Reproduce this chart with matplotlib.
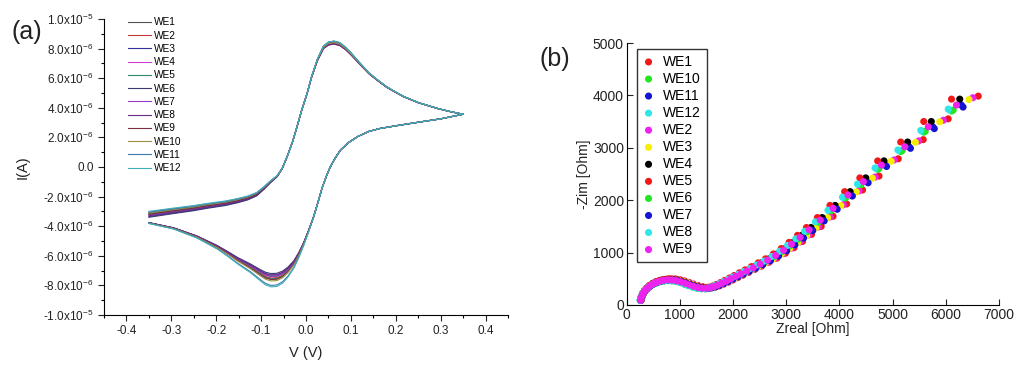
import numpy as np
import matplotlib
matplotlib.use("Agg")
import matplotlib.pyplot as plt
from matplotlib.ticker import MultipleLocator, FixedLocator

plt.rcParams['font.family'] = ['Liberation Sans', 'DejaVu Sans']
plt.rcParams['mathtext.fontset'] = 'custom'
plt.rcParams['mathtext.rm'] = 'Liberation Sans'
plt.rcParams['mathtext.it'] = 'Liberation Sans'

###################################################################################################
# (a) cyclic voltammetry - base branches (V, uA)
v_fwd = [-0.35, -0.30, -0.25, -0.22, -0.18, -0.153, -0.13, -0.11, -0.094, -0.08, -0.064, -0.053,
         -0.042, -0.03, -0.02, -0.01, 0.0025, 0.012, 0.025, 0.039, 0.05, 0.062, 0.075, 0.088,
         0.10, 0.12, 0.14, 0.158, 0.18, 0.20, 0.218, 0.25, 0.292, 0.32, 0.35]
i_fwd = [-3.13, -2.92, -2.72, -2.57, -2.40, -2.23, -2.05, -1.80, -1.40, -1.00, -0.60, -0.10,
         0.70, 1.70, 2.72, 3.80, 4.98, 6.05, 7.23, 8.13, 8.38, 8.45, 8.35, 8.05,
         7.68, 7.00, 6.35, 5.90, 5.40, 5.05, 4.75, 4.35, 3.96, 3.75, 3.56]
v_rev = [0.35, 0.30, 0.25, 0.20, 0.165, 0.14, 0.115, 0.095, 0.077, 0.065, 0.054, 0.045, 0.036,
         0.027, 0.017, 0.006, -0.005, -0.016, -0.027, -0.04, -0.052, -0.065, -0.078, -0.09,
         -0.102, -0.124, -0.153, -0.175, -0.198, -0.243, -0.295, -0.35]
i_rev = [3.56, 3.25, 3.02, 2.78, 2.60, 2.40, 2.05, 1.65, 1.15, 0.60, 0.0, -0.65, -1.40,
         -2.35, -3.36, -4.30, -5.16, -5.90, -6.51, -7.00, -7.32, -7.50, -7.52, -7.42,
         -7.20, -6.76, -6.26, -5.82, -5.39, -4.71, -4.14, -3.78]

cv_labels = ['WE1', 'WE2', 'WE3', 'WE4', 'WE5', 'WE6', 'WE7', 'WE8', 'WE9', 'WE10', 'WE11', 'WE12']
cv_colors = ['#505050', '#c03a3a', '#30309a', '#d040d0', '#2f8a6a', '#3a3a70', '#9a3ac8',
             '#6a2a8a', '#7a3040', '#9a9040', '#3a78b0', '#40b0b8']
# peak currents and start current of each electrode (uA)
anodic_peak = [8.45, 8.30, 8.35, 8.40, 8.50, 8.35, 8.40, 8.30, 8.45, 8.40, 8.50, 8.50]
cathodic_peak = [-7.40, -7.50, -7.30, -7.60, -7.55, -7.20, -7.40, -7.30, -7.60, -7.70, -8.00, -8.10]
start_current = [-3.10, -3.20, -3.35, -3.05, -3.15, -3.40, -3.25, -3.30, -3.20, -3.10, -3.05, -3.00]

a_yticks = [-1e-5, -8e-6, -6e-6, -4e-6, -2e-6, 0, 2e-6, 4e-6, 6e-6, 8e-6, 1e-5]
a_ylabels = ['-1.0x10$^{-5}$', '-8.0x10$^{-6}$', '-6.0x10$^{-6}$', '-4.0x10$^{-6}$', '-2.0x10$^{-6}$',
             '0.0', '2.0x10$^{-6}$', '4.0x10$^{-6}$', '6.0x10$^{-6}$', '8.0x10$^{-6}$', '1.0x10$^{-5}$']

###################################################################################################
# (b) Nyquist plot - base path (Ohm)
zre_base = [260, 275, 300, 335, 380, 430, 490, 555, 625, 700, 780, 860, 940, 1020, 1100, 1180,
            1260, 1340, 1420, 1500, 1570, 1640, 1710, 1790, 1870, 1960, 2050, 2150, 2260, 2380,
            2510, 2650, 2800, 2950, 3100, 3260, 3430, 3640, 3880, 4160, 4450, 4790, 5230, 5670, 6200]
zim_base = [90, 150, 210, 265, 315, 360, 400, 430, 455, 470, 478, 475, 462, 440, 412, 382,
            355, 333, 320, 318, 330, 350, 380, 415, 455, 500, 545, 595, 650, 710,
            780, 855, 945, 1045, 1160, 1290, 1435, 1620, 1845, 2100, 2355, 2670, 3020, 3400, 3815]

eis_labels = ['WE1', 'WE10', 'WE11', 'WE12', 'WE2', 'WE3', 'WE4', 'WE5', 'WE6', 'WE7', 'WE8', 'WE9']
eis_colors = ['#f01818', '#22e622', '#1414d2', '#30e6e6', '#ee22ee', '#f6f000', '#000000',
              '#f01818', '#22e622', '#1414d2', '#30e6e6', '#ee22ee']
kx = [1.066, 0.985, 1.015, 0.980, 1.050, 1.038, 1.010, 0.985, 0.990, 1.020, 0.975, 1.000]
ky = [1.045, 0.970, 1.000, 0.975, 1.037, 1.028, 1.030, 1.030, 0.975, 0.990, 0.980, 1.000]

###################################################################################################
fig = plt.figure(figsize=(10.24, 3.71), dpi=100)

ax1 = fig.add_axes([0.1016, 0.151, 0.3945, 0.798])
for k in range(len(cv_labels)):
    fwd = np.asarray(i_fwd)
    rev = np.asarray(i_rev)
    # electrode differences mostly sit at the peaks, ends stay bundled
    fwd = np.where(fwd > 0, fwd + (anodic_peak[k] - fwd.max()) * (fwd / fwd.max()) ** 4,
                   fwd * start_current[k] / fwd[0])
    rev = np.where(rev < 0, rev + (cathodic_peak[k] - rev.min()) * (rev / rev.min()) ** 4, rev)
    v = np.concatenate([v_fwd, v_rev])
    cur = np.concatenate([fwd, rev]) * 1e-6
    ax1.plot(v, cur, color=cv_colors[k], lw=0.8, label=cv_labels[k])
ax1.set_xlim(-0.45, 0.45)
ax1.set_ylim(-1e-5, 1e-5)
ax1.xaxis.set_major_locator(MultipleLocator(0.1))
ax1.xaxis.set_minor_locator(MultipleLocator(0.05))
ax1.yaxis.set_major_locator(FixedLocator(a_yticks))
ax1.yaxis.set_minor_locator(MultipleLocator(1e-6))
ax1.set_yticklabels(a_ylabels)
ax1.set_xticks([-0.4, -0.3, -0.2, -0.1, 0.0, 0.1, 0.2, 0.3, 0.4])
ax1.set_xticklabels(['-0.4', '-0.3', '-0.2', '-0.1', '0.0', '0.1', '0.2', '0.3', '0.4'])
for s in ['top', 'right']:
    ax1.spines[s].set_visible(False)
ax1.tick_params(which='major', direction='out', length=4, width=0.8, labelsize=8.5, colors='#222222')
ax1.tick_params(which='minor', direction='out', length=2.5, width=0.8)
ax1.set_xlabel('V (V)', fontsize=10.5, labelpad=6, color='#222222')
ax1.set_ylabel('I(A)', fontsize=10.5, labelpad=10, color='#222222')
ax1.legend(loc='upper left', bbox_to_anchor=(0.06, 1.005), frameon=False, fontsize=7.3,
           labelspacing=0.32, handlelength=2.2, handletextpad=0.3, borderpad=0, borderaxespad=0)
fig.text(0.011, 0.895, '(a)', fontsize=18, color='#222222', va='baseline')

ax2 = fig.add_axes([0.612, 0.178, 0.3636, 0.706])
for k in range(len(eis_labels)):
    ax2.scatter(np.asarray(zre_base) * kx[k], np.asarray(zim_base) * ky[k], s=26,
                color=eis_colors[k], edgecolors='none', label=eis_labels[k])
ax2.set_xlim(0, 7000)
ax2.set_ylim(0, 5000)
ax2.xaxis.set_major_locator(MultipleLocator(1000))
ax2.yaxis.set_major_locator(MultipleLocator(1000))
for s in ['top', 'right']:
    ax2.spines[s].set_visible(False)
ax2.tick_params(direction='in', length=4, width=0.8, labelsize=10, pad=2, colors='#222222')
ax2.set_xlabel('Zreal [Ohm]', fontsize=10, labelpad=0, color='#222222')
ax2.set_ylabel('-Zim [Ohm]', fontsize=10, labelpad=1, color='#222222')
leg = ax2.legend(loc='upper left', bbox_to_anchor=(0.027, 0.977), fontsize=10, frameon=True,
                 fancybox=False, edgecolor='black', labelspacing=0.22, handlelength=0.9,
                 handletextpad=0.6, borderaxespad=0, borderpad=0.4, scatterpoints=1)
leg.get_frame().set_linewidth(1.0)
fig.text(0.527, 0.822, '(b)', fontsize=18, color='#222222', va='baseline')

plt.savefig('out.png', dpi=100)
